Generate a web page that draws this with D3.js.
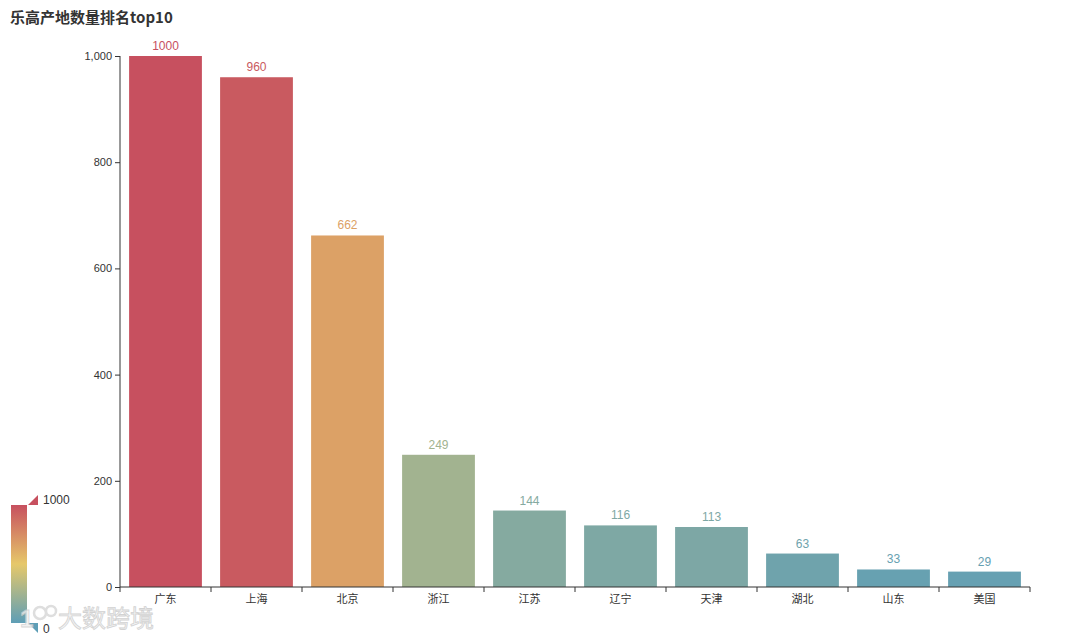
<!DOCTYPE html>
<html><head><meta charset="utf-8">
<script src="https://cdn.jsdelivr.net/npm/d3@7/dist/d3.min.js"></script>
<style>
html,body{margin:0;padding:0;background:#fff;}
svg{display:block;font-family:"Liberation Sans","Noto Sans CJK SC",sans-serif;}
</style></head>
<body>
<svg id="chart" width="1080" height="637"></svg>
<script>
const title = "乐高产地数量排名top10";
const categories = ["广东","上海","北京","浙江","江苏","辽宁","天津","湖北","山东","美国"];
const values = [1000,960,662,249,144,116,113,63,33,29];
const yTicks = [0,200,400,600,800,1000];
const colorDomain = [0,500,1000];
const colorRange = ["#5e9eb6","#e6c86a","#c7505f"];

const svg = d3.select("#chart");

const x = d3.scaleBand().domain(categories).range([120,1030]).paddingInner(0.2).paddingOuter(0.1);
const y = d3.scaleLinear().domain([0,1000]).range([587,56]);
const color = d3.scaleLinear().domain(colorDomain).range(colorRange).interpolate(d3.interpolateRgb);

// title
svg.append("text").attr("x",10).attr("y",23).attr("font-size",15).attr("font-weight","bold")
  .attr("fill","#333").attr("font-family","'Noto Sans CJK SC',sans-serif").text(title);

// bars
svg.append("g").selectAll("rect").data(values).join("rect")
  .attr("x",(d,i)=>x(categories[i])).attr("width",x.bandwidth())
  .attr("y",d=>y(d)).attr("height",d=>y(0)-y(d)).attr("fill",d=>color(d));

// value labels
svg.append("g").selectAll("text").data(values).join("text")
  .attr("x",(d,i)=>x(categories[i])+x.bandwidth()/2).attr("y",d=>y(d)-6)
  .attr("text-anchor","middle").attr("font-size",12).attr("fill",d=>color(d)).text(d=>d);

// y axis
const yAxis = svg.append("g").attr("transform","translate(120,0)")
  .call(d3.axisLeft(y).tickValues(yTicks).tickFormat(d3.format(",")).tickSize(5).tickPadding(3));
yAxis.selectAll("path,line").attr("stroke","#333");
yAxis.selectAll("text").attr("font-size",11).attr("fill","#333");
yAxis.select(".domain").attr("d","M0,587V56");

// x axis with boundary ticks
const xg = svg.append("g");
xg.append("line").attr("x1",120).attr("x2",1030).attr("y1",587).attr("y2",587).attr("stroke","#333");
const bounds = d3.range(categories.length+1).map(i=>120+i*x.step());
xg.selectAll("line.t").data(bounds).join("line").attr("class","t")
  .attr("x1",d=>d).attr("x2",d=>d).attr("y1",587).attr("y2",592).attr("stroke","#333");
xg.selectAll("text").data(categories).join("text")
  .attr("x",d=>x(d)+x.bandwidth()/2).attr("y",603).attr("text-anchor","middle")
  .attr("font-size",11).attr("fill","#333").attr("font-family","'Noto Sans CJK SC',sans-serif").text(d=>d);

// visual map legend
const defs = svg.append("defs");
const grad = defs.append("linearGradient").attr("id","vm").attr("x1",0).attr("y1",1).attr("x2",0).attr("y2",0);
colorDomain.forEach((d,i)=>grad.append("stop").attr("offset",d/1000).attr("stop-color",colorRange[i]));
const vmY = d3.scaleLinear().domain([0,1000]).range([623,505]);
svg.append("rect").attr("x",11).attr("y",vmY(1000)).attr("width",16).attr("height",vmY(0)-vmY(1000)).attr("fill","url(#vm)");
svg.append("path").attr("d",`M28,${vmY(1000)}L38,${vmY(1000)-10}L38,${vmY(1000)}Z`).attr("fill",color(1000));
svg.append("path").attr("d",`M28,${vmY(0)}L38,${vmY(0)}L38,${vmY(0)+10}Z`).attr("fill",color(0));
svg.append("text").attr("x",43).attr("y",vmY(1000)-1).attr("font-size",12).attr("fill","#333").text("1000");
svg.append("text").attr("x",43).attr("y",vmY(0)+10).attr("font-size",12).attr("fill","#333").text("0");

// watermark
const wm = svg.append("g").attr("opacity",0.8);
wm.append("text").attr("x",20).attr("y",627).attr("font-size",24).attr("font-weight","bold")
  .attr("fill","#eeeeee").attr("stroke","#cfcfcf").attr("stroke-width",0.8).text("1");
wm.append("circle").attr("cx",40).attr("cy",613).attr("r",6).attr("fill","none").attr("stroke","#d6d6d6").attr("stroke-width",2.5);
wm.append("circle").attr("cx",51).attr("cy",611).attr("r",5).attr("fill","none").attr("stroke","#d6d6d6").attr("stroke-width",2.5);
wm.append("text").attr("x",58).attr("y",627).attr("font-size",24).attr("font-family","'Noto Sans CJK SC',sans-serif")
  .attr("fill","#f2f2f2").attr("stroke","#c8c8c8").attr("stroke-width",0.8).text("大数跨境");
</script>
</body></html>
